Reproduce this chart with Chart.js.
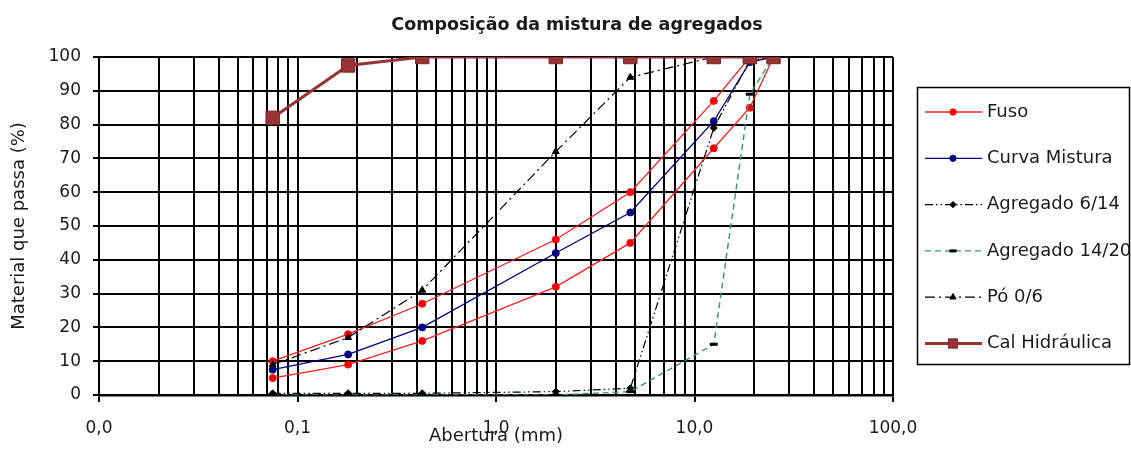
<!DOCTYPE html>
<html>
<head>
<meta charset="utf-8">
<script src="https://cdn.jsdelivr.net/npm/chart.js@4.4.1/dist/chart.umd.min.js"></script>
<style>
html, body { margin: 0; padding: 0; background: #fff; }
canvas { display: block; }
</style>
</head>
<body>
<canvas id="chart" width="1131" height="449"></canvas>
<script>
// abertura dos peneiros (mm)
const sieves = [0.075, 0.18, 0.425, 2, 4.75, 12.5, 19, 25];

// % passado
const fusoSup = [10, 18, 27, 46, 60, 87, 100, 100];
const fusoInf = [5, 9, 16, 32, 45, 73, 85, 100];
const curvaMistura = [7.5, 12, 20, 42, 54, 81, 98.5, 100];
const agregado614 = [0.5, 0.5, 0.5, 1, 2, 79, 99, 100];
const agregado1420 = [0, 0, 0, 0, 1, 15, 89, 100];
const po06 = [9, 17, 31, 72, 94, 100, 100, 100];
const calHidraulica = [82, 97.5, 100, 100, 100, 100, 100, 100];

// eixos
const xMajors = [0.01, 0.1, 1, 10, 100];
const xTickLabels = ["0,0", "0,1", "1,0", "10,0", "100,0"];
const yTicks = [0, 10, 20, 30, 40, 50, 60, 70, 80, 90, 100];

const FONT = "'DejaVu Sans', Verdana, sans-serif";
const TEXT = "#1a1a1a";

// grelha logarítmica: 1..9 em cada década
const xTicks = [];
xMajors.slice(0, -1).forEach(m => {
    for (let s = 1; s <= 9; s++) xTicks.push(+(s * m).toPrecision(6));
});
xTicks.push(xMajors[xMajors.length - 1]);

const majorIndex = v => xMajors.findIndex(m => Math.abs(m - v) < m * 1e-6);

const pts = arr => sieves.map((x, i) => ({ x: x, y: arr[i] }));

const datasets = [
    {
        label: "Fuso", data: pts(fusoSup), order: 7,
        borderColor: "#ff2020", borderWidth: 1.3,
        pointStyle: "circle", pointRadius: 3.5,
        pointBackgroundColor: "#ff0000", pointBorderColor: "#ff0000", pointBorderWidth: 1
    },
    {
        label: "Fuso", data: pts(fusoInf), order: 6, hideInLegend: true,
        borderColor: "#ff2020", borderWidth: 1.3,
        pointStyle: "circle", pointRadius: 3.5,
        pointBackgroundColor: "#ff0000", pointBorderColor: "#ff0000", pointBorderWidth: 1
    },
    {
        label: "Curva Mistura", data: pts(curvaMistura), order: 5,
        borderColor: "#000080", borderWidth: 1.3,
        pointStyle: "circle", pointRadius: 3.5,
        pointBackgroundColor: "#000080", pointBorderColor: "#000080", pointBorderWidth: 1
    },
    {
        label: "Agregado 6/14", data: pts(agregado614), order: 4,
        borderColor: "#000000", borderWidth: 1.2, borderDash: [8, 3, 1.5, 3, 1.5, 3],
        pointStyle: "rectRot", pointRadius: 3.5,
        pointBackgroundColor: "#000000", pointBorderColor: "#000000", pointBorderWidth: 1
    },
    {
        label: "Agregado 14/20", data: pts(agregado1420), order: 3,
        borderColor: "#339966", borderWidth: 1.4, borderDash: [6, 4],
        pointStyle: "line", pointRadius: 4,
        pointBackgroundColor: "#000000", pointBorderColor: "#000000", pointBorderWidth: 3
    },
    {
        label: "Pó 0/6", data: pts(po06), order: 2,
        borderColor: "#000000", borderWidth: 1.2, borderDash: [10, 4, 2, 4],
        pointStyle: "triangle", pointRadius: 4,
        pointBackgroundColor: "#000000", pointBorderColor: "#000000", pointBorderWidth: 1
    },
    {
        label: "Cal Hidráulica", data: pts(calHidraulica), order: 1,
        borderColor: "#993333", borderWidth: 3,
        pointStyle: "rect", pointRadius: 9.5,
        pointBackgroundColor: "#993333", pointBorderColor: "#7a2626", pointBorderWidth: 1
    }
];

// título do gráfico
const titlePlugin = {
    id: "titleText",
    afterDraw(chart) {
        const ctx = chart.ctx;
        ctx.save();
        ctx.font = "bold 17.5px " + FONT;
        ctx.fillStyle = TEXT;
        ctx.textAlign = "center";
        ctx.textBaseline = "middle";
        ctx.fillText("Composição da mistura de agregados", 577, 25);
        ctx.restore();
    }
};

// legenda à direita, desenhada como no Excel
const legendPlugin = {
    id: "boxLegend",
    afterDraw(chart) {
        const ctx = chart.ctx;
        const items = chart.data.datasets.filter(d => !d.hideInLegend);
        ctx.save();
        ctx.strokeStyle = "#000";
        ctx.lineWidth = 1.5;
        ctx.strokeRect(917.5, 87.5, 212, 277);
        items.forEach((ds, i) => {
            const y = 112 + i * 46.3;
            ctx.save();
            ctx.strokeStyle = ds.borderColor;
            ctx.lineWidth = ds.borderWidth;
            ctx.setLineDash(ds.borderDash || []);
            ctx.beginPath();
            ctx.moveTo(925, y);
            ctx.lineTo(982, y);
            ctx.stroke();
            ctx.setLineDash([]);
            ctx.fillStyle = ds.pointBackgroundColor;
            ctx.strokeStyle = ds.pointBorderColor;
            ctx.lineWidth = ds.pointBorderWidth;
            Chart.helpers.drawPoint(ctx, {
                pointStyle: ds.pointStyle,
                radius: ds.pointStyle === "rect" ? 6.5 : ds.pointRadius * 0.9,
                rotation: 0,
                borderWidth: ds.pointBorderWidth
            }, 953, y);
            ctx.restore();
            ctx.font = "18px " + FONT;
            ctx.fillStyle = TEXT;
            ctx.textAlign = "left";
            ctx.textBaseline = "middle";
            ctx.fillText(ds.label, 987, y);
        });
        ctx.restore();
    }
};

new Chart(document.getElementById("chart"), {
    type: "line",
    data: { datasets: datasets },
    options: {
        responsive: false,
        animation: false,
        layout: { padding: { top: 57, right: 238, bottom: 0, left: 0 } },
        elements: { line: { tension: 0 } },
        plugins: {
            legend: { display: false },
            title: { display: false },
            tooltip: { enabled: false }
        },
        scales: {
            x: {
                type: "logarithmic",
                min: 0.01,
                max: 100,
                afterBuildTicks: s => { s.ticks = xTicks.map(v => ({ value: v })); },
                afterFit: s => { s.height = 54; },
                ticks: {
                    autoSkip: false,
                    maxRotation: 0,
                    padding: 16,
                    color: TEXT,
                    font: { family: FONT, size: 17 },
                    callback: v => {
                        const i = majorIndex(v);
                        return i >= 0 ? xTickLabels[i] : "";
                    }
                },
                grid: {
                    color: "#000",
                    lineWidth: 2,
                    tickLength: 7,
                    tickWidth: 2,
                    tickColor: c => (c.tick && majorIndex(c.tick.value) >= 0) ? "#000" : "rgba(0,0,0,0)"
                },
                border: { color: "#000", width: 2.5 },
                title: {
                    display: true,
                    text: "Abertura (mm)",
                    color: TEXT,
                    font: { family: FONT, size: 18 },
                    padding: { top: 0, bottom: 2 }
                }
            },
            y: {
                min: 0,
                max: 100,
                afterBuildTicks: s => { s.ticks = yTicks.map(v => ({ value: v })); },
                afterFit: s => { s.width = 99; },
                ticks: {
                    autoSkip: false,
                    padding: 12,
                    color: TEXT,
                    font: { family: FONT, size: 17 }
                },
                grid: { color: "#000", lineWidth: 2, tickLength: 6 },
                border: { color: "#000", width: 2 },
                title: {
                    display: true,
                    text: "Material que passa (%)",
                    color: TEXT,
                    font: { family: FONT, size: 18 },
                    padding: { top: 9, bottom: 0 }
                }
            }
        }
    },
    plugins: [titlePlugin, legendPlugin]
});
</script>
</body>
</html>
